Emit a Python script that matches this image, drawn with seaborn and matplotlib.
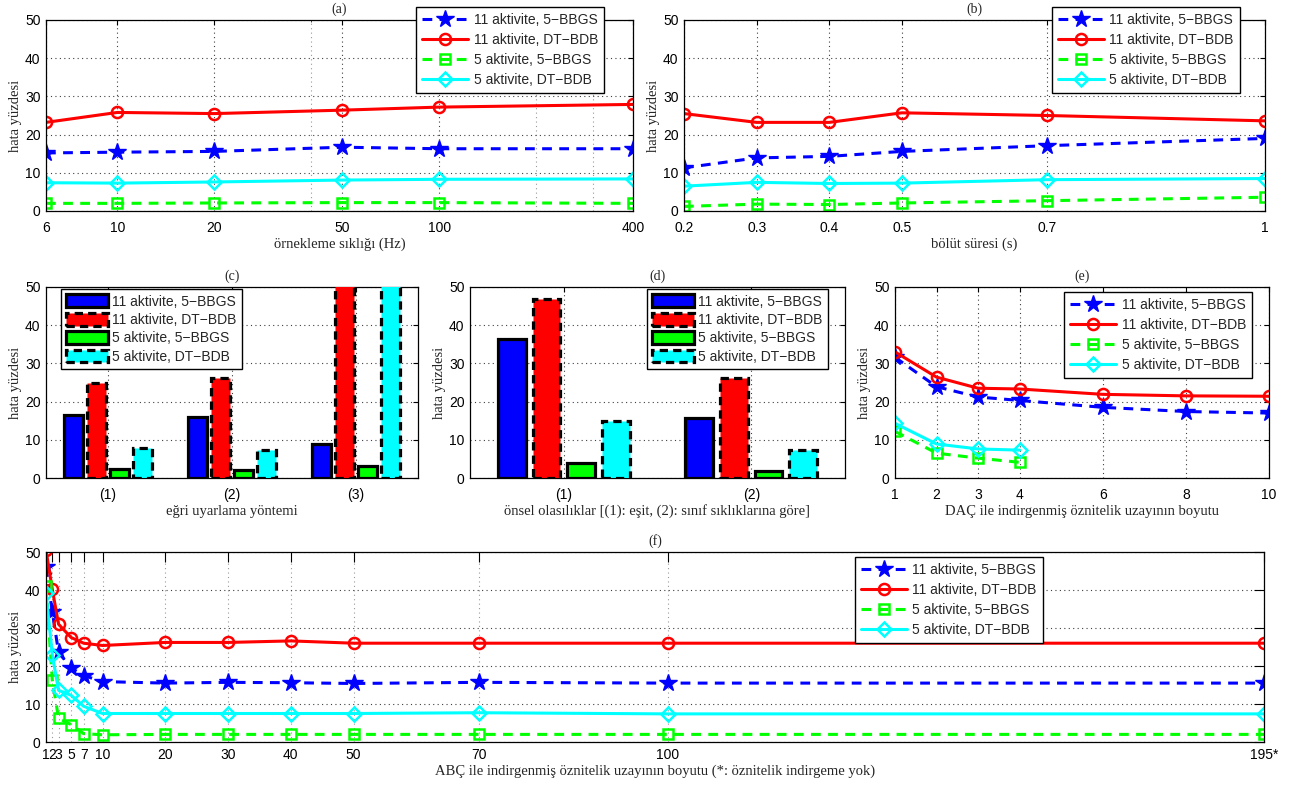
import numpy as np
import pandas as pd
import matplotlib
matplotlib.use("Agg")
import matplotlib.pyplot as plt
from matplotlib.ticker import FixedLocator, FixedFormatter, NullFormatter
import seaborn as sns

sns.set_theme(style="white")
plt.rcParams['font.family'] = ['Liberation Sans', 'DejaVu Sans']
plt.rcParams['axes.unicode_minus'] = True

# ---------------- data ----------------
series = ['11 aktivite, 5\u2212BBGS', '11 aktivite, DT\u2212BDB',
          '5 aktivite, 5\u2212BBGS', '5 aktivite, DT\u2212BDB']
colors = ['#0000ff', '#ff0000', '#00ff00', '#00ffff']

# (a) sampling frequency
a_x = [6, 10, 20, 50, 100, 400]
a_11_bbgs = [15.2, 15.4, 15.6, 16.7, 16.3, 16.3]
a_11_dtbdb = [23.2, 25.8, 25.5, 26.4, 27.2, 27.9]
a_5_bbgs = [2.0, 2.0, 2.1, 2.2, 2.2, 2.0]
a_5_dtbdb = [7.4, 7.3, 7.6, 8.1, 8.3, 8.4]

# (b) segment duration
b_x = [0.2, 0.3, 0.4, 0.5, 0.7, 1.0]
b_labels = ['0.2', '0.3', '0.4', '0.5', '0.7', '1']
b_11_bbgs = [11.3, 13.9, 14.3, 15.6, 17.1, 19.0]
b_11_dtbdb = [25.5, 23.2, 23.2, 25.7, 25.0, 23.6]
b_5_bbgs = [1.2, 1.8, 1.7, 2.1, 2.7, 3.6]
b_5_dtbdb = [6.5, 7.5, 7.2, 7.3, 8.2, 8.5]

# (c) curve fitting method
c_cats = ['(1)', '(2)', '(3)']
c_11_bbgs = [16.5, 15.9, 8.9]
c_11_dtbdb = [24.9, 26.1, 60.0]
c_5_bbgs = [2.4, 2.1, 3.1]
c_5_dtbdb = [7.8, 7.4, 60.0]

# (d) prior probabilities
d_cats = ['(1)', '(2)']
d_11_bbgs = [36.5, 15.7]
d_11_dtbdb = [46.8, 26.1]
d_5_bbgs = [3.9, 1.9]
d_5_dtbdb = [14.9, 7.3]

# (e) LDA dimension
e_x11 = [1, 2, 3, 4, 6, 8, 10]
e_x5 = [1, 2, 3, 4]
e_11_bbgs = [31.6, 23.9, 21.2, 20.3, 18.5, 17.4, 17.0]
e_11_dtbdb = [33.0, 26.4, 23.5, 23.3, 21.9, 21.5, 21.4]
e_5_bbgs = [12.2, 6.5, 5.2, 4.1]
e_5_dtbdb = [14.3, 8.9, 7.6, 7.3]
e_ticks = [1, 2, 3, 4, 6, 8, 10]

# (f) PCA dimension
f_x = [1, 2, 3, 5, 7, 10, 20, 30, 40, 50, 70, 100, 195]
f_labels = ['1', '2', '3', '5', '7', '10', '20', '30', '40', '50', '70', '100', '195*']
f_11_bbgs = [46.0, 34.3, 23.6, 19.5, 17.5, 15.9, 15.5, 15.7, 15.6, 15.4, 15.7, 15.5, 15.5]
f_11_dtbdb = [50.5, 40.2, 31.0, 27.5, 26.0, 25.4, 26.2, 26.2, 26.6, 26.0, 26.0, 26.0, 26.0]
f_5_bbgs = [41.0, 16.4, 6.2, 4.6, 2.2, 1.9, 2.0, 2.0, 2.0, 2.0, 2.0, 2.0, 2.0]
f_5_dtbdb = [39.2, 23.0, 13.6, 12.3, 9.4, 7.5, 7.5, 7.5, 7.5, 7.5, 7.7, 7.4, 7.4]

y_ticks = [0, 10, 20, 30, 40, 50]

# ---------------- styling ----------------
line_styles = [
    dict(linestyle=(0, (3.2, 2.4)), marker='*', markersize=13, markerfacecolor='#0000ff', markeredgecolor='#0000ff', markeredgewidth=1),
    dict(linestyle='-', marker='o', markersize=8, markerfacecolor='none', markeredgecolor='#ff0000', markeredgewidth=1.8),
    dict(linestyle=(0, (3.2, 2.4)), marker='s', markersize=6.5, markerfacecolor='none', markeredgecolor='#00ff00', markeredgewidth=1.8),
    dict(linestyle='-', marker='D', markersize=7, markerfacecolor='none', markeredgecolor='#00ffff', markeredgewidth=1.8),
]
LW = 2.2
SERIF = 'Liberation Serif'
TICKFS = 10
LABELFS = 10.5

W, H = 1295, 790
fig = plt.figure(figsize=(W / 100, H / 100), dpi=100)


def add_ax(l, r, t, b):
    return fig.add_axes([l / W, 1 - b / H, (r - l) / W, (b - t) / H])


def style_axes(ax, title, xlabel, ticklen=3.5):
    ax.set_ylim(0, 50)
    ax.set_yticks(y_ticks)
    ax.tick_params(direction='in', top=True, right=True, length=ticklen, width=0.8,
                   labelsize=TICKFS, pad=4, colors='black')
    ax.tick_params(axis='x', pad=7 if ticklen < 5 else 4)
    ax.tick_params(which='minor', direction='in', top=True, right=True, length=ticklen * 0.5, width=0.6)
    for s in ax.spines.values():
        s.set_color('black')
        s.set_linewidth(0.9)
        s.set_visible(True)
    ax.set_title(title, fontfamily=SERIF, fontsize=10, pad=5)
    ax.set_xlabel(xlabel, fontfamily=SERIF, fontsize=LABELFS, labelpad=2)
    ax.set_ylabel('hata yüzdesi', fontfamily=SERIF, fontsize=LABELFS, labelpad=2)
    ax.grid(True, which='major', linestyle=(0, (1, 3)), color='0.25', linewidth=0.8)
    ax.set_axisbelow(True)


def draw_lines(ax, xs_list, ys_list):
    for i, (xs, ys) in enumerate(zip(xs_list, ys_list)):
        sns.lineplot(x=xs, y=ys, ax=ax, color=colors[i], linewidth=LW, label=series[i],
                     legend=False, **line_styles[i])


def line_legend(ax, anchor, loc):
    leg = ax.legend(loc=loc, bbox_to_anchor=anchor, frameon=True, fancybox=False,
                    framealpha=1, edgecolor='black', fontsize=TICKFS, handlelength=3.3,
                    labelspacing=0.42, borderpad=0.45, handletextpad=0.4, borderaxespad=0)
    leg.get_frame().set_linewidth(1.0)
    return leg


# (a)
ax = add_ax(46, 633, 20, 211)
draw_lines(ax, [a_x] * 4, [a_11_bbgs, a_11_dtbdb, a_5_bbgs, a_5_dtbdb])
ax.set_xscale('log')
ax.set_xlim(6, 400)
ax.xaxis.set_major_locator(FixedLocator(a_x))
ax.xaxis.set_major_formatter(FixedFormatter([str(v) for v in a_x]))
ax.xaxis.set_minor_locator(FixedLocator([40, 200, 300]))
ax.xaxis.set_minor_formatter(NullFormatter())
style_axes(ax, '(a)', 'örnekleme sıklığı (Hz)')
ax.grid(True, which='minor', axis='x', linestyle=(0, (1, 3)), color='0.6', linewidth=0.8)
line_legend(ax, (0.951, 1.068), 'upper right')

# (b)
ax = add_ax(684, 1265, 20, 211)
draw_lines(ax, [b_x] * 4, [b_11_bbgs, b_11_dtbdb, b_5_bbgs, b_5_dtbdb])
ax.set_xlim(0.2, 1.0)
ax.set_xticks(b_x)
ax.set_xticklabels(b_labels)
style_axes(ax, '(b)', 'bölüt süresi (s)')
line_legend(ax, (0.957, 1.068), 'upper right')


# bar panels
def bar_panel(ax, cats, vals_list, title, xlabel, anchor, loc):
    rows = []
    for s, vals in zip(series, vals_list):
        for c, v in zip(cats, vals):
            rows.append((c, s, v))
    df = pd.DataFrame(rows, columns=['cat', 'series', 'val'])
    sns.barplot(data=df, x='cat', y='val', hue='series', order=cats, hue_order=series,
                palette=dict(zip(series, colors)), saturation=1, width=0.74, gap=0.2,
                edgecolor='black', linewidth=2.3, errorbar=None, legend=False, ax=ax)
    for i, cont in enumerate(ax.containers):
        for p in cont.patches:
            if i in (1, 3):
                p.set_linestyle((0, (2.6, 1.6)))
            p.set_zorder(3)
    ax.set_xlim(-0.5, len(cats) - 0.5)
    style_axes(ax, title, xlabel)
    handles = [cont.patches[0] for cont in ax.containers]
    leg = ax.legend(handles, series, loc=loc, bbox_to_anchor=anchor, frameon=True, fancybox=False,
                    framealpha=1, edgecolor='black', fontsize=TICKFS, handlelength=3.0,
                    handleheight=1.05, labelspacing=0.3, borderpad=0.4, handletextpad=0.3,
                    borderaxespad=0)
    leg.get_frame().set_linewidth(1.0)
    leg.set_zorder(10)


ax = add_ax(46, 418, 287, 478)
bar_panel(ax, c_cats, [c_11_bbgs, c_11_dtbdb, c_5_bbgs, c_5_dtbdb], '(c)',
          'eğri uyarlama yöntemi', (0.04, 0.99), 'upper left')

ax = add_ax(470, 845, 287, 478)
bar_panel(ax, d_cats, [d_11_bbgs, d_11_dtbdb, d_5_bbgs, d_5_dtbdb], '(d)',
          'önsel olasılıklar [(1): eşit, (2): sınıf sıklıklarına göre]', (0.955, 0.99), 'upper right')

# (e)
ax = add_ax(895, 1269, 287, 478)
draw_lines(ax, [e_x11, e_x11, e_x5, e_x5], [e_11_bbgs, e_11_dtbdb, e_5_bbgs, e_5_dtbdb])
ax.set_xlim(1, 10)
ax.set_xticks(e_ticks)
ax.set_xticklabels([str(v) for v in e_ticks])
style_axes(ax, '(e)', 'DAÇ ile indirgenmiş öznitelik uzayının boyutu')
line_legend(ax, (0.955, 0.974), 'upper right')

# (f)
ax = add_ax(46, 1264, 552, 742)
draw_lines(ax, [f_x] * 4, [f_11_bbgs, f_11_dtbdb, f_5_bbgs, f_5_dtbdb])
ax.set_xlim(1, 195)
ax.set_xticks(f_x)
ax.set_xticklabels(f_labels)
style_axes(ax, '(f)', 'ABÇ ile indirgenmiş öznitelik uzayının boyutu (*: öznitelik indirgeme yok)', ticklen=7)
ax.grid(True, which='major', axis='x', linestyle=(0, (1, 3)), color='0.6', linewidth=0.8)
line_legend(ax, (0.664, 0.974), 'upper left')

fig.savefig('out.png', dpi=100)
